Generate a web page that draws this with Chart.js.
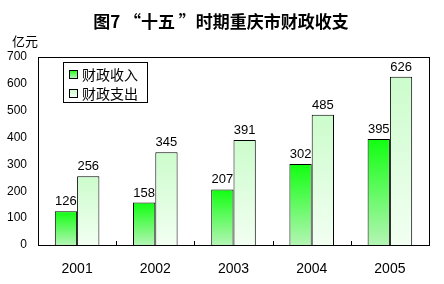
<!DOCTYPE html>
<html>
<head>
<meta charset="utf-8">
<script src="https://cdn.jsdelivr.net/npm/chart.js@4/dist/chart.umd.min.js"></script>
<style>
  html, body { margin: 0; padding: 0; background: #fff; }
  #wrap { width: 444px; height: 284px; }
</style>
</head>
<body>
<div id="wrap"><canvas id="c" width="444" height="284"></canvas></div>
<script>
const years = ['2001', '2002', '2003', '2004', '2005'];
const revenue = [126, 158, 207, 302, 395];
const expenditure = [256, 345, 391, 485, 626];
const seriesNames = ['财政收入', '财政支出'];
const yTicks = [0, 100, 200, 300, 400, 500, 600, 700];

const cjk = '"Noto Sans CJK SC", sans-serif';
const num = '"Liberation Sans", sans-serif';

function makeGrad(ctx, top, bottom, c1, c2) {
    let g = ctx.createLinearGradient(0, top, 0, bottom);
    g.addColorStop(0, c1);
    g.addColorStop(1, c2);
    return g;
}

function barFill(c1, c2) {
    return (context) => {
        let chart = context.chart;
        let area = chart.chartArea;
        if (!area) return c1;
        let y = chart.scales.y;
        let v = context.raw || 0;
        return makeGrad(chart.ctx, y.getPixelForValue(v), y.getPixelForValue(0), c1, c2);
    };
}

const colors = [
    ['#10ff10', '#b4f5b4'],
    ['#ccfccc', '#f2fff2']
];

// titles, legend, value labels, frame
const decor = {
    id: 'decor',
    afterDraw(chart) {
        let ctx = chart.ctx;
        let a = chart.chartArea;
        ctx.save();

        // frame
        ctx.strokeStyle = '#000';
        ctx.lineWidth = 1;
        ctx.strokeRect(a.left + 0.5, a.top + 0.5, a.right - a.left, a.bottom - a.top);

        // inner ticks on x axis between categories
        let step = (a.right - a.left) / years.length;
        ctx.beginPath();
        for (let i = 1; i < years.length; i++) {
            let x = Math.round(a.left + step * i) + 0.5;
            ctx.moveTo(x, a.bottom);
            ctx.lineTo(x, a.bottom - 4);
        }
        ctx.stroke();

        // title
        ctx.fillStyle = '#000';
        ctx.textAlign = 'center';
        ctx.textBaseline = 'middle';
        ctx.font = 'bold 17px ' + cjk;
        ctx.fillText('图7 “十五 ”时期重庆市财政收支', 221, 22);

        // unit
        ctx.font = '13px ' + cjk;
        ctx.textAlign = 'left';
        ctx.fillText('亿元', 12, 41);

        // value labels
        ctx.font = '13px ' + num;
        ctx.textAlign = 'center';
        ctx.textBaseline = 'alphabetic';
        chart.data.datasets.forEach((ds, di) => {
            let meta = chart.getDatasetMeta(di);
            meta.data.forEach((bar, i) => {
                ctx.fillText(String(ds.data[i]), bar.x, bar.y - 6);
            });
        });

        // legend box
        let lx = 63, ly = 62, lw = 84, lh = 40;
        ctx.fillStyle = '#fff';
        ctx.fillRect(lx, ly, lw, lh);
        ctx.strokeRect(lx + 0.5, ly + 0.5, lw, lh);
        ctx.font = '14px ' + cjk;
        ctx.textBaseline = 'middle';
        ctx.textAlign = 'left';
        seriesNames.forEach((name, i) => {
            let cy = ly + 12 + i * 19;
            ctx.fillStyle = makeGrad(ctx, cy - 4, cy + 4, colors[i][0], colors[i][1]);
            ctx.fillRect(lx + 6, cy - 4, 8, 8);
            ctx.strokeRect(lx + 6.5, cy - 3.5, 8, 8);
            ctx.fillStyle = '#000';
            ctx.fillText(name, lx + 19, cy + 1);
        });

        ctx.restore();
    }
};

new Chart(document.getElementById('c'), {
    type: 'bar',
    data: {
        labels: years,
        datasets: [
            {
                label: seriesNames[0],
                data: revenue,
                backgroundColor: barFill(colors[0][0], colors[0][1]),
                borderColor: '#000',
                borderWidth: 1
            },
            {
                label: seriesNames[1],
                data: expenditure,
                backgroundColor: barFill(colors[1][0], colors[1][1]),
                borderColor: '#000',
                borderWidth: 1
            }
        ]
    },
    options: {
        responsive: false,
        animation: false,
        layout: { padding: { top: 57, right: 15, left: 0, bottom: 0 } },
        datasets: { bar: { categoryPercentage: 0.57, barPercentage: 1 } },
        plugins: {
            legend: { display: false },
            tooltip: { enabled: false },
            title: { display: false }
        },
        scales: {
            x: {
                grid: { display: false, drawTicks: false },
                border: { display: false },
                ticks: { color: '#000', font: { family: num, size: 14 }, padding: 16 },
                afterFit(s) { s.height = 39; }
            },
            y: {
                min: 0,
                max: 700,
                afterBuildTicks(s) { s.ticks = yTicks.map(v => ({ value: v })); },
                grid: { display: false, drawTicks: false },
                border: { display: false },
                ticks: { color: '#000', font: { family: num, size: 12 }, padding: 11 },
                afterFit(s) { s.width = 38; }
            }
        }
    },
    plugins: [decor]
});
</script>
</body>
</html>
